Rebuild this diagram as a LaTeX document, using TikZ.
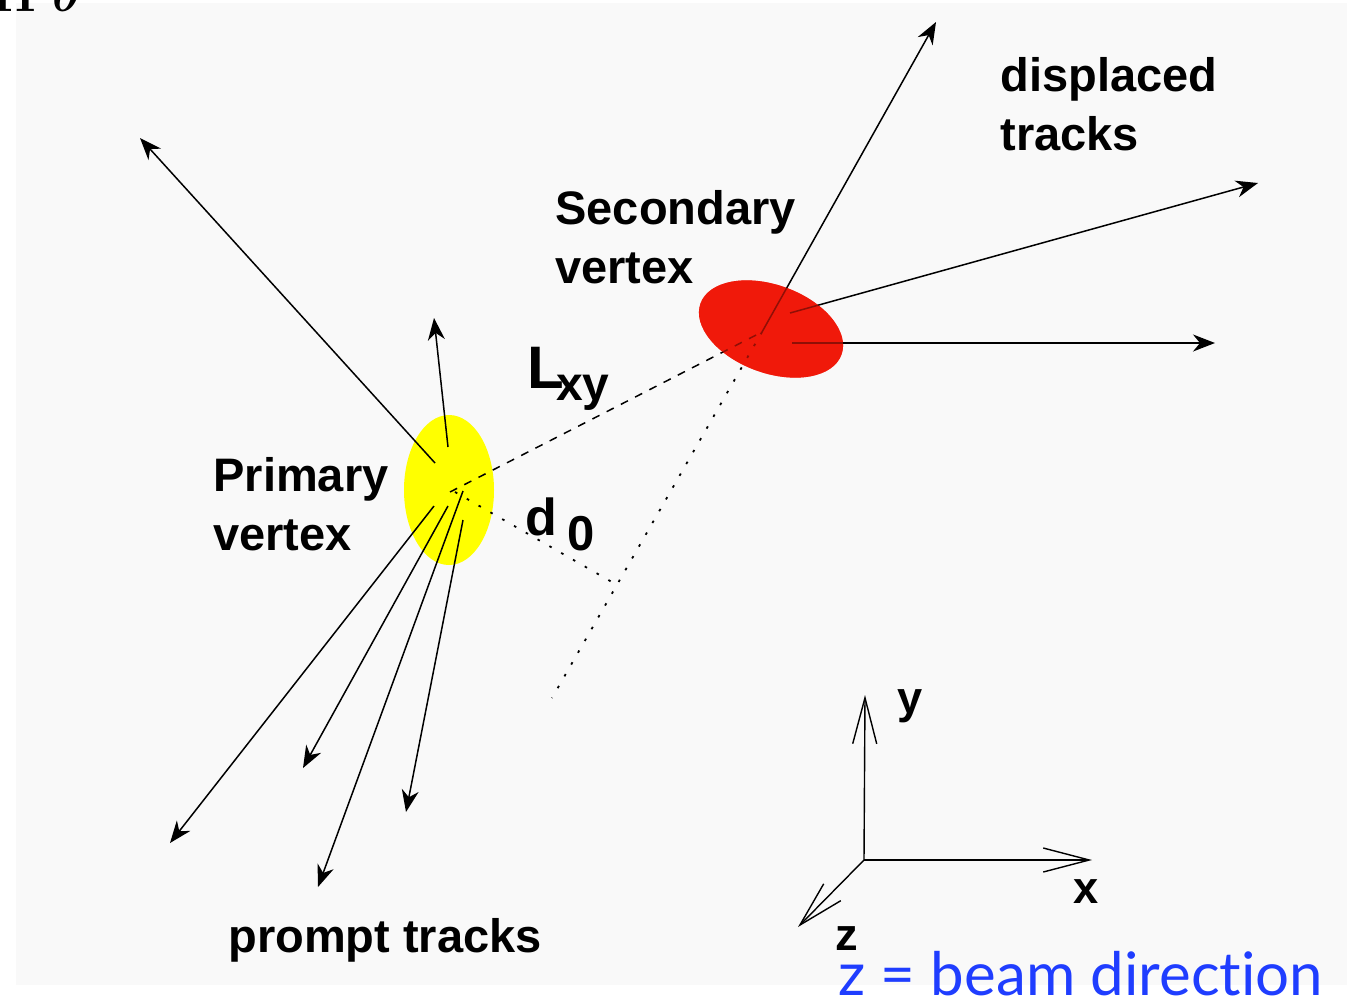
\documentclass[tikz,border=0pt]{standalone}
\usepackage{fontspec}
\setmainfont{Liberation Sans}
\newfontfamily\bluefont[Ligatures=NoCommon]{Lato}
\usetikzlibrary{arrows.meta,calc}
\definecolor{panel}{HTML}{F9F9F9}
\definecolor{pvyellow}{rgb}{1,1,0}
\definecolor{svred}{rgb}{0.94,0.1,0.04}
\definecolor{beamblue}{rgb}{0.12,0.24,1}
\begin{document}
\begin{tikzpicture}[x=0.5pt,y=-0.5pt,
  track/.style={line width=0.75pt,-{Stealth[length=11pt,width=8.5pt,inset=3.5pt]}},
  axisline/.style={line width=0.7pt,-{Straight Barb[length=23pt,width=12pt]}},
  lxydash/.style={line width=0.75pt,dash pattern=on 4pt off 4pt},
  dotline/.style={line width=0.9pt,dash pattern=on 1.3pt off 5.5pt},
  lbl/.style={font=\fontsize{23.5}{29.5}\selectfont\bfseries,align=left,inner sep=0pt},
  axlbl/.style={font=\fontsize{22.6}{26}\selectfont\bfseries,inner sep=0pt,anchor=base west},
]
\useasboundingbox (0,0) rectangle (1359,1001);
\fill[white] (0,0) rectangle (1359,1001);
\fill[panel] (16,3) rectangle (1347,985);

% cut-off glyphs at the top left
\begin{scope}
\clip (0,0) rectangle (220,14);
\node[anchor=base west,inner sep=0pt,font=\fontsize{34}{34}\selectfont\boldmath] (topglyphs) at (-8,11) {$\Pi\;\theta$};
\end{scope}

% vertices
\coordinate (PV) at (455,492);
\coordinate (SV) at (762,332);
\fill[pvyellow] (449,490) ellipse [x radius=45, y radius=75];
\fill[svred,rotate around={-20:(771,329)}] (771,329) ellipse [x radius=75, y radius=44];

% prompt tracks
\coordinate (p1s) at (435,463); \coordinate (p1e) at (140,138);
\coordinate (p2s) at (448,447); \coordinate (p2e) at (434,318);
\coordinate (p3s) at (434,506); \coordinate (p3e) at (170,843);
\coordinate (p4s) at (448,506); \coordinate (p4e) at (303,768);
\coordinate (p5s) at (463,491); \coordinate (p5e) at (318,887);
\coordinate (p6s) at (463,520); \coordinate (p6e) at (406,812);
\foreach \i in {1,...,6} {\draw[track] (p\i s) -- (p\i e);}

% displaced tracks
\coordinate (d1e) at (936,22);
\coordinate (d2s) at (790,313); \coordinate (d2e) at (1258,183);
\coordinate (d3s) at (792,343); \coordinate (d3e) at (1215,343);
\draw[track] (SV) -- (d1e);
\draw[track] (d2s) -- (d2e);
\draw[track] (d3s) -- (d3e);

% flight distance and impact parameter
\coordinate (PVd) at (450,492);
\draw[lxydash] (PVd) -- (SV);
\coordinate (back) at (552,698);
\draw[dotline] (SV) -- (back);
\coordinate (foot) at ($(SV)!(PV)!(back)$);
\draw[dotline] (PV) -- (foot);

% translucent red over the tracks inside the secondary vertex
\fill[svred,fill opacity=0.6,rotate around={-20:(771,329)}] (771,329) ellipse [x radius=75, y radius=44];

% labels
\node[lbl,anchor=north west] (pvlab) at (213,457) {Primary\\vertex};
\node[lbl,anchor=north west] (svlab) at (555,190) {Secondary\\vertex};
\node[lbl,anchor=north west] (displab) at (1000,57) {displaced\\tracks};
\node[lbl,anchor=base west] (promptlab) at (228,952) {prompt tracks};
\node[inner sep=0pt,anchor=base west,font=\bfseries] (lxylab) at (527,388)
  {{\fontsize{30}{30}\selectfont L}\kern-4pt\raisebox{-6pt}{\fontsize{24}{24}\selectfont xy}};
\node[inner sep=0pt,anchor=base west,font=\bfseries] (d0lab) at (525,535)
  {{\fontsize{26}{26}\selectfont d}\kern5pt\raisebox{-7.5pt}{\fontsize{24.5}{24.5}\selectfont 0}};

% axes
\coordinate (O) at (864,860);
\coordinate (ay) at (865,695);
\coordinate (ax) at (1092,860);
\coordinate (az) at (798,927);
\draw[axisline] (O) -- (ay);
\draw[axisline] (O) -- (ax);
\draw[axisline] (O) -- (az);
\node[axlbl] (ylab) at (897,713) {y};
\node[axlbl] (xlab) at (1073,903) {x};
\node[axlbl] (zlab) at (835,950) {z};

\node[inner sep=0pt,anchor=base west,text=beamblue,font=\bluefont\fontsize{30}{30}\selectfont] (beam) at (838,995) {z = beam direc\kern0pt t\kern0pt ion};
\end{tikzpicture}
\end{document}
